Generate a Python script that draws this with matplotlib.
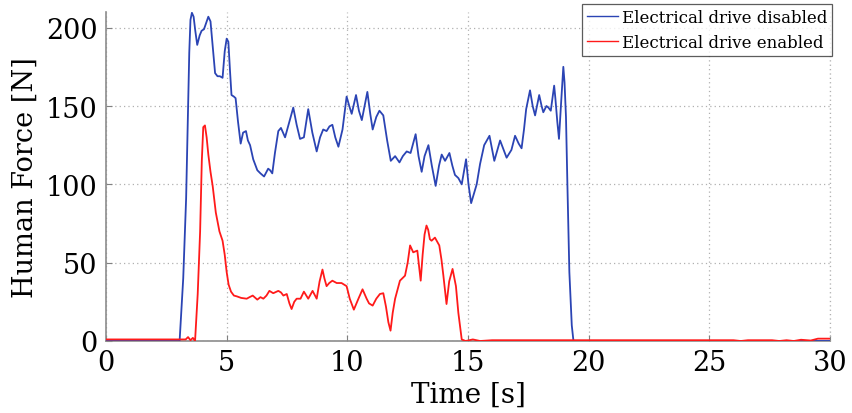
import matplotlib
matplotlib.use("Agg")
import matplotlib.pyplot as plt

# ---- data ----
t_disabled = [0, 3.05, 3.2, 3.32, 3.45, 3.5, 3.56, 3.63, 3.7, 3.78, 3.88, 3.96, 4.06, 4.15, 4.24, 4.33,
              4.42, 4.52, 4.62, 4.72, 4.83, 4.92, 5.0, 5.07, 5.14, 5.2, 5.3, 5.37, 5.47, 5.58, 5.68,
              5.8, 5.88, 5.97, 6.1, 6.27, 6.4, 6.55, 6.72, 6.8, 6.89, 7.0, 7.14, 7.25, 7.42, 7.6,
              7.76, 7.9, 8.04, 8.2, 8.38, 8.55, 8.73, 8.87, 9.0, 9.14, 9.26, 9.38, 9.5, 9.63, 9.8,
              9.97, 10.08, 10.18, 10.36, 10.48, 10.6, 10.83, 10.95, 11.05, 11.2, 11.33, 11.49, 11.65,
              11.8, 11.98, 12.16, 12.3, 12.46, 12.62, 12.83, 12.95, 13.08, 13.2, 13.36, 13.5, 13.66,
              13.8, 13.91, 14.05, 14.23, 14.35, 14.46, 14.6, 14.74, 14.92, 15.02, 15.13, 15.36, 15.5,
              15.67, 15.89, 16.09, 16.33, 16.6, 16.8, 16.95, 17.1, 17.22, 17.32, 17.41, 17.57, 17.68,
              17.78, 17.95, 18.05, 18.12, 18.25, 18.33, 18.43, 18.57, 18.62, 18.7, 18.77, 18.85,
              18.95, 19.0, 19.06, 19.12, 19.2, 19.3, 19.37, 30]
f_disabled = [0, 0, 40, 91, 184, 205, 209.5, 207, 198, 189, 195, 198, 199, 203, 207, 204,
              188, 171, 169, 169, 168, 185, 193, 191, 172, 157, 156, 155, 140, 126, 133,
              134, 128, 125, 116, 109, 107, 105, 110, 109, 107, 120, 134, 136, 130, 140,
              149, 138, 129, 130, 148, 133, 121, 130, 135, 134, 137, 138, 130, 124, 135,
              156, 150, 145, 157, 147, 141, 159, 145, 135, 143, 147, 144, 128,
              115, 118, 114, 118, 121, 120, 132, 118, 108, 118, 125, 112, 99,
              112, 119, 115, 120, 112, 106, 104, 100, 116, 100, 88, 100, 113,
              125, 131, 115, 128, 117, 122, 131, 126, 123, 135, 148, 160, 150,
              144, 157, 150, 146, 150, 149, 147, 163, 155, 140, 129, 150,
              175, 165, 143, 99, 44, 10, 0, 0]

t_enabled = [0, 3.3, 3.4, 3.5, 3.6, 3.69, 3.8, 3.9, 3.97, 4.03, 4.1, 4.17, 4.24, 4.33, 4.42, 4.55,
             4.7, 4.83, 4.92, 5.0, 5.08, 5.18, 5.3, 5.42, 5.6, 5.83, 5.95, 6.08, 6.27, 6.4, 6.52,
             6.65, 6.77, 6.93, 7.14, 7.25, 7.35, 7.49, 7.6, 7.69, 7.8, 7.9, 8.06, 8.2, 8.38, 8.56,
             8.73, 8.85, 8.97, 9.05, 9.14, 9.25, 9.38, 9.56, 9.76, 9.97, 10.1, 10.27, 10.46, 10.63,
             10.8, 10.9, 11.05, 11.2, 11.35, 11.49, 11.6, 11.7, 11.79, 11.88, 11.98, 12.18, 12.39,
             12.5, 12.6, 12.73, 12.9, 12.97, 13.04, 13.12, 13.2, 13.28, 13.35, 13.42, 13.49, 13.63,
             13.81, 13.9, 13.98, 14.11, 14.22, 14.36, 14.5, 14.6, 14.74, 14.9, 15.2, 15.5, 16.0,
             26.0, 26.3, 26.6, 27.6, 27.9, 28.2, 28.5, 28.8, 29.2, 29.5, 30]
f_enabled = [1, 1, 2.5, 0.5, 2, 0, 30, 70, 115, 136.5, 137.6, 130, 119, 108, 99, 82,
             70, 64, 55, 44, 36, 31.5, 29, 28.5, 27.5, 27, 28, 29, 26.4, 28, 27,
             29, 32, 30.5, 32, 31, 29, 30, 24, 20.4, 25, 27, 27, 31.5, 27, 32,
             27, 38, 45.6, 40, 35, 37, 38.5, 37, 37, 35, 27, 20, 27, 33,
             27, 24, 22.6, 27, 30, 30.5, 22, 12, 6.6, 18, 27, 38.5, 41.7,
             50, 61, 56.6, 57.7, 48, 38.5, 55, 68, 73.7, 71, 65, 64, 66,
             61, 52, 41.7, 23.6, 38, 46, 35, 18, 1, 0, 1, 0, 0.5,
             0.5, 0, 0.5, 0.5, 0, 0.5, 0, 0.8, 0.3, 1.5, 1.5]

xticks = [0, 5, 10, 15, 20, 25, 30]
yticks = [0, 50, 100, 150, 200]
labels = ["Electrical drive disabled", "Electrical drive enabled"]

# ---- figure ----
plt.rcParams['font.family'] = ['DejaVu Serif']
fig = plt.figure(figsize=(8.52, 4.14), dpi=100)
ax = fig.add_axes([106/852, 1-342/414, (830-106)/852, (342-13)/414])

blue = "#2b44b4"
red = "#ff1a1a"
ax.plot(t_disabled, f_disabled, color=blue, lw=1.3, label=labels[0], zorder=3,
        solid_joinstyle='round')
ax.plot(t_enabled, f_enabled, color=red, lw=1.3, label=labels[1], zorder=4,
        solid_joinstyle='round')

ax.set_xlim(0, 30)
ax.set_ylim(0, 210)
ax.set_xticks(xticks)
ax.set_yticks(yticks)
ax.tick_params(direction='in', length=4, color='#808080', labelsize=19.5, pad=6)
for s in ['top', 'right']:
    ax.spines[s].set_visible(False)
for s in ['left', 'bottom']:
    ax.spines[s].set_color('#8c8c8c')
    ax.spines[s].set_linewidth(1.2)

ax.grid(True, linestyle=(0, (1, 2.5)), color='#b0b0b0', linewidth=0.9)
ax.axvline(30, linestyle=(0, (1, 2.5)), color='#b0b0b0', linewidth=0.9, clip_on=False)

ax.set_xlabel("Time [s]", fontsize=20, labelpad=3)
ax.set_ylabel("Human Force [N]", fontsize=19.5, labelpad=5)

leg = ax.legend(loc='upper right', bbox_to_anchor=(832/852, 1-5/414),
                bbox_transform=fig.transFigure, fontsize=12, frameon=True,
                fancybox=False, edgecolor='#333333', handlelength=1.9, handletextpad=0.2,
                borderpad=0.3, labelspacing=0.45, borderaxespad=0)
leg.get_frame().set_linewidth(0.9)
for line in leg.get_lines():
    line.set_linewidth(1.0)

fig.savefig("out.png", dpi=100)
